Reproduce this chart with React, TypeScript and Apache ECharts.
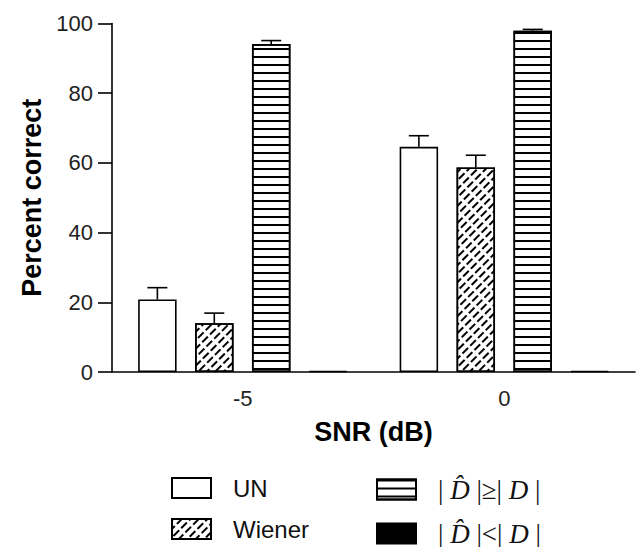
import React, { useEffect, useRef } from "react";
import * as echarts from "echarts";

const categories = ["-5", "0"];
const seriesNames = ["UN", "Wiener", "|D̂|≥|D|", "|D̂|<|D|"];
const unValues = [20.8, 64.6];
const unErrors = [3.4, 3.2];
const wienerValues = [14.0, 58.7];
const wienerErrors = [2.9, 3.5];
const geValues = [94.1, 97.9];
const geErrors = [1.0, 0.4];
const ltValues = [0.3, 0.3];
const yTicks = [0, 20, 40, 60, 80, 100];

const BAR_GAP = 0.48;
const CAT_GAP = 0.2;
const N_BARS = 4;

function makeErr(seriesIdx: number, values: number[], errs: number[]) {
  return {
    type: "custom",
    silent: true,
    z: 5,
    data: values.map((v, i) => [i, v, v + errs[i]]),
    renderItem: (params: any, api: any) => {
      const cat = api.value(0);
      const v = api.value(1);
      const hi = api.value(2);
      const c = api.coord([cat, v]);
      const h = api.coord([cat, hi]);
      const band = api.size([1, 0])[0];
      const groupW = band * (1 - CAT_GAP);
      const bw = groupW / (N_BARS + (N_BARS - 1) * BAR_GAP);
      const x = c[0] - groupW / 2 + seriesIdx * bw * (1 + BAR_GAP) + bw / 2;
      const capW = bw * 0.52;
      return {
        type: "group",
        children: [
          { type: "line", shape: { x1: x, y1: c[1], x2: x, y2: h[1] }, style: { stroke: "#000", lineWidth: 1.6 } },
          { type: "line", shape: { x1: x - capW / 2, y1: h[1], x2: x + capW / 2, y2: h[1] }, style: { stroke: "#000", lineWidth: 1.6 } },
        ],
      };
    },
  };
}

export default function App() {
  const ref = useRef<HTMLDivElement>(null);
  useEffect(() => {
    if (!ref.current) return;
    const chart = echarts.init(ref.current, null, { renderer: "svg" });
    const border = { borderColor: "#000", borderWidth: 1.6 };
    const barBase = { type: "bar", barGap: "48%", barCategoryGap: "20%" };
    const legendText = {
      fontFamily: "Liberation Sans, Arial, sans-serif",
      fontSize: 24,
      lineHeight: 20,
      color: "#111",
      padding: [0, 0, 0, 17],
      rich: {
        m: { fontFamily: "Liberation Serif, serif", fontSize: 27, lineHeight: 20, color: "#111" },
        i: { fontFamily: "Liberation Serif, serif", fontStyle: "italic", fontSize: 27, lineHeight: 20, color: "#111" },
      },
    };
    const fmt = (name: string) => {
      if (name === seriesNames[2]) return "{m|| }{i|D̂}{m| |≥| }{i|D}{m| |}";
      if (name === seriesNames[3]) return "{m|| }{i|D̂}{m| |<| }{i|D}{m| |}";
      return name;
    };
    const legendBase = {
      orient: "vertical",
      top: 476,
      height: 90,
      padding: 0,
      icon: "rect",
      itemWidth: 39,
      itemHeight: 20,
      itemGap: 17,
      textStyle: legendText,
      formatter: fmt,
      selectedMode: false,
    };
    chart.setOption({
      animation: false,
      backgroundColor: "#fff",
      grid: { left: 112, right: 5, top: 23.5, bottom: 175, containLabel: false },
      legend: [
        { ...legendBase, left: 171, data: [seriesNames[0], seriesNames[1]] },
        { ...legendBase, left: 376, data: [seriesNames[2], seriesNames[3]] },
      ],
      xAxis: {
        type: "category",
        data: categories,
        name: "SNR (dB)",
        nameLocation: "middle",
        nameGap: 46,
        nameTextStyle: { fontFamily: "Liberation Sans, Arial, sans-serif", fontWeight: "bold", fontSize: 27, color: "#000" },
        axisLine: { lineStyle: { color: "#000", width: 1.6 } },
        axisTick: { show: false },
        axisLabel: { margin: 15, fontFamily: "Liberation Sans, Arial, sans-serif", fontSize: 22, color: "#222" },
      },
      yAxis: {
        type: "value",
        min: 0,
        max: 100,
        interval: 20,
        name: "Percent correct",
        nameLocation: "middle",
        nameGap: 66,
        nameTextStyle: { fontFamily: "Liberation Sans, Arial, sans-serif", fontWeight: "bold", fontSize: 27, color: "#000" },
        axisLine: { show: true, lineStyle: { color: "#000", width: 1.6 } },
        axisTick: { show: true, length: 14, lineStyle: { color: "#000", width: 1.6 } },
        splitLine: { show: false },
        axisLabel: {
          margin: 19,
          fontFamily: "Liberation Sans, Arial, sans-serif",
          fontSize: 22,
          color: "#222",
          formatter: (v: number) => (yTicks.includes(v) ? String(v) : ""),
        },
      },
      series: [
        { ...barBase, name: seriesNames[0], data: unValues, itemStyle: { color: "#fff", ...border } },
        {
          ...barBase,
          name: seriesNames[1],
          data: wienerValues,
          itemStyle: {
            color: "#fff",
            ...border,
            decal: { symbol: "rect", symbolSize: 1, color: "#000", dashArrayX: [[8, 2.5]], dashArrayY: [2, 3.3], rotation: -Math.PI / 4 },
          },
        },
        {
          ...barBase,
          name: seriesNames[2],
          data: geValues,
          itemStyle: {
            color: "#fff",
            ...border,
            decal: { symbol: "rect", symbolSize: 1, color: "#000", dashArrayX: [1, 0], dashArrayY: [2, 5.2], rotation: 0 },
          },
        },
        { ...barBase, name: seriesNames[3], data: ltValues, itemStyle: { color: "#000", ...border } },
        makeErr(0, unValues, unErrors),
        makeErr(1, wienerValues, wienerErrors),
        makeErr(2, geValues, geErrors),
      ],
    });
    return () => chart.dispose();
  }, []);
  return <div ref={ref} style={{ width: 640, height: 547, position: "absolute", left: 0, top: 0 }} />;
}
